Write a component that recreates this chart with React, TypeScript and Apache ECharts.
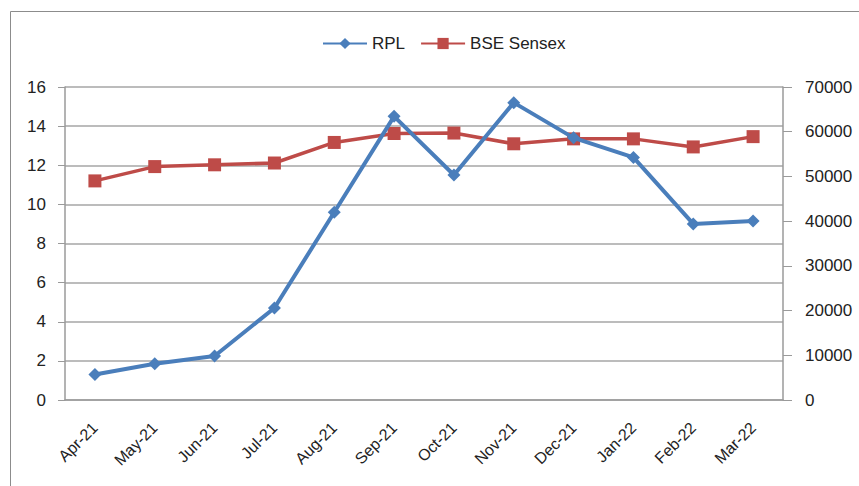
import React, { useEffect, useRef } from "react";
import * as echarts from "echarts";

const categories = ["Apr-21", "May-21", "Jun-21", "Jul-21", "Aug-21", "Sep-21", "Oct-21", "Nov-21", "Dec-21", "Jan-22", "Feb-22", "Mar-22"];
const rplValues = [1.3, 1.85, 2.25, 4.7, 9.6, 14.5, 11.5, 15.2, 13.4, 12.4, 9.0, 9.15];
const sensexValues = [49000, 52200, 52600, 53000, 57600, 59600, 59700, 57300, 58400, 58400, 56600, 58900];
const leftTicks = { min: 0, max: 16, interval: 2 };
const rightTicks = { min: 0, max: 70000, interval: 10000 };

const FONT = "Liberation Sans";
const AXIS_GRAY = "#9a9a9a";

export default function App() {
  const ref = useRef<HTMLDivElement>(null);
  useEffect(() => {
    document.body.style.margin = "0";
    const chart = echarts.init(ref.current!, undefined, { renderer: "svg" });
    chart.setOption({
      animation: false,
      backgroundColor: "#ffffff",
      textStyle: { fontFamily: FONT },
      graphic: [
        {
          type: "rect",
          shape: { x: 10.5, y: 11.5, width: 900, height: 500 },
          style: { fill: "none", stroke: "#8c8c8c", lineWidth: 1 },
          silent: true,
        },
      ],
      legend: {
        top: 35,
        left: 322,
        padding: 0,
        itemWidth: 44,
        itemHeight: 14,
        itemGap: 15,
        textStyle: { fontSize: 17, color: "#222", fontFamily: FONT },
        data: ["RPL", "BSE Sensex"],
      },
      grid: { left: 65, right: 76, top: 87, bottom: 86 },
      xAxis: {
        type: "category",
        data: categories,
        boundaryGap: true,
        axisLine: { lineStyle: { color: AXIS_GRAY, width: 1.5 } },
        axisTick: { show: false },
        axisLabel: { rotate: 45, fontSize: 16, color: "#222", margin: 25, interval: 0, fontFamily: FONT },
      },
      yAxis: [
        {
          type: "value",
          min: leftTicks.min,
          max: leftTicks.max,
          interval: leftTicks.interval,
          axisLine: { show: true, lineStyle: { color: AXIS_GRAY, width: 1.5 } },
          axisTick: { show: true, length: 7, inside: false, lineStyle: { color: AXIS_GRAY } },
          axisLabel: { fontSize: 17, color: "#222", margin: 19, fontFamily: FONT },
          splitLine: { lineStyle: { color: "#a6a6a6", width: 1.5 } },
        },
        {
          type: "value",
          min: rightTicks.min,
          max: rightTicks.max,
          interval: rightTicks.interval,
          position: "right",
          axisLine: { show: true, lineStyle: { color: AXIS_GRAY, width: 1.5 } },
          axisTick: { show: true, length: 9, inside: false, lineStyle: { color: AXIS_GRAY } },
          axisLabel: { fontSize: 17, color: "#222", margin: 22, fontFamily: FONT, formatter: (v: number) => String(v) },
          splitLine: { show: false },
        },
      ],
      series: [
        {
          name: "RPL",
          type: "line",
          yAxisIndex: 0,
          data: rplValues,
          symbol: "diamond",
          symbolSize: 13,
          lineStyle: { color: "#4a7ebb", width: 4 },
          itemStyle: { color: "#4a7ebb" },
          z: 3,
        },
        {
          name: "BSE Sensex",
          type: "line",
          yAxisIndex: 1,
          data: sensexValues,
          symbol: "rect",
          symbolSize: 13,
          lineStyle: { color: "#be4b48", width: 3.5 },
          itemStyle: { color: "#be4b48" },
          z: 2,
        },
      ],
    });
    return () => chart.dispose();
  }, []);
  return <div ref={ref} style={{ position: "absolute", left: 0, top: 0, width: 859, height: 486 }} />;
}
